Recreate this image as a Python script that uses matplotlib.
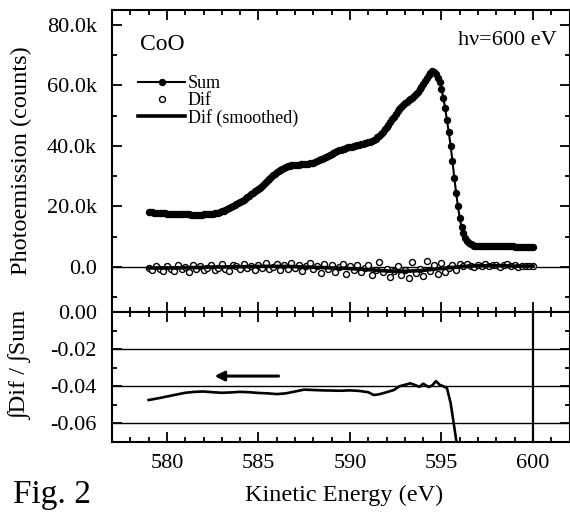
import numpy as np
import matplotlib
matplotlib.use('Agg')
import matplotlib.pyplot as plt
from matplotlib.ticker import MultipleLocator, FuncFormatter, FixedLocator

plt.rcParams['font.family'] = ['Liberation Serif', 'DejaVu Serif']
plt.rcParams['axes.unicode_minus'] = False

# ---------------- data ----------------
sum_energy = np.round(np.arange(579.0, 600.05, 0.1), 1)
sum_counts_k = [
    18.1, 18.0, 18.0, 17.9, 17.9, 17.8, 17.8, 17.8, 17.7, 17.7,
    17.6, 17.6, 17.6, 17.5, 17.5, 17.5, 17.4, 17.4, 17.4, 17.3,
    17.3, 17.3, 17.3, 17.2, 17.2, 17.2, 17.2, 17.2, 17.2, 17.2,
    17.3, 17.3, 17.4, 17.4, 17.5, 17.6, 17.7, 17.8, 17.9, 18.1,
    18.3, 18.5, 18.8, 19.1, 19.4, 19.7, 20.0, 20.4, 20.8, 21.1,
    21.4, 21.8, 22.2, 22.6, 23.0, 23.5, 24.0, 24.5, 25.0, 25.3,
    25.7, 26.2, 26.8, 27.4, 28.0, 28.6, 29.2, 29.8, 30.3, 30.8,
    31.2, 31.7, 32.1, 32.5, 32.8, 33.1, 33.3, 33.5, 33.6, 33.7,
    33.8, 33.8, 33.8, 33.9, 33.9, 34.0, 34.0, 34.1, 34.2, 34.3,
    34.5, 34.7, 34.9, 35.2, 35.5, 35.8, 36.1, 36.4, 36.7, 37.0,
    37.3, 37.6, 37.9, 38.2, 38.5, 38.7, 38.9, 39.1, 39.3, 39.5,
    39.6, 39.8, 39.9, 40.1, 40.2, 40.4, 40.5, 40.7, 40.9, 41.0,
    41.2, 41.4, 41.6, 41.9, 42.3, 42.8, 43.4, 44.0, 44.7, 45.5,
    46.2, 47.0, 47.9, 48.8, 49.7, 50.6, 51.5, 52.3, 53.0, 53.6,
    54.1, 54.6, 55.1, 55.5, 56.0, 56.6, 57.3, 58.0, 58.8, 59.6,
    60.4, 61.4, 62.5, 63.4, 64.2, 64.8, 64.6, 63.8, 62.5, 61.0,
    59.0, 56.0, 52.5, 48.5, 44.5, 40.0, 35.0, 29.5, 24.5, 20.0,
    16.0, 13.0, 11.0, 9.6, 8.6, 7.9, 7.5, 7.2, 7.0, 6.9,
    6.8, 6.8, 6.8, 6.7, 6.7, 6.7, 6.7, 6.7, 6.7, 6.7,
    6.7, 6.7, 6.7, 6.7, 6.7, 6.7, 6.7, 6.7, 6.7, 6.7,
    6.6, 6.6, 6.6, 6.6, 6.6, 6.6, 6.6, 6.6, 6.6, 6.6,
    6.6,
]

dif_energy = np.round(np.arange(579.0, 600.05, 0.2), 1)
dif_counts_k = [
    -0.5, -1.2, 0.3, -0.8, -1.5, 0.2, -0.6, -1.3, 0.4, -0.9,
    -0.2, -1.6, 0.5, -0.7, 0.1, -1.1, -0.3, 0.6, -1.0, -0.4,
    0.8, -0.6, -1.4, 0.7, 0.2, -0.9, 1.0, -0.5, 0.3, -1.2,
    0.5, -0.3, 1.2, -0.8, 0.0, 0.9, -1.0, 0.4, -0.6, 1.1,
    -0.4, 0.6, -1.3, 0.2, 1.3, -0.7, 0.3, -2.2, 0.8, -0.9,
    0.5, -1.6, -0.2, 0.9, -2.3, 0.1, -1.0, 0.6, -1.8, -0.3,
    0.4, -2.6, -1.0, 1.7, -1.9, -0.6, -3.3, -1.4, 0.3, -2.8,
    -1.2, -3.6, 1.5, -2.1, -0.7, -3.0, 1.8, -1.5, 0.5, -2.4,
    1.2, -1.8, -0.4, 0.6, -1.0, 0.9, 0.2, 1.0, 0.3, -0.2,
    0.6, 0.2, 0.8, 0.1, 0.4, 0.7, 0.0, 0.5, 0.9, 0.2,
    0.4, 0.0, 0.3, 0.2, 0.1, 0.2,
]

smooth_energy = np.arange(579.0, 600.01, 0.5)
smooth_counts_k = [
    -0.4, -0.4, -0.4, -0.4, -0.3, -0.3, -0.2, -0.1, -0.1, 0.0,
    0.0, 0.0, 0.1, 0.1, 0.1, 0.1, 0.0, -0.1, -0.2, -0.3,
    -0.4, -0.5, -0.6, -0.8, -1.0, -1.2, -1.4, -1.5, -1.5, -1.4,
    -1.2, -0.9, -0.6, -0.3, 0.0, 0.2, 0.3, 0.3, 0.3, 0.3,
    0.2, 0.2, 0.2,
]

ratio_energy = [
    579.0, 579.5, 580.0, 580.5, 581.0, 581.5, 582.0, 582.5, 583.0, 583.5,
    584.0, 584.5, 585.0, 585.5, 586.0, 586.5, 587.0, 587.5, 588.0, 588.5,
    589.0, 589.5, 590.0, 590.5, 591.0, 591.3, 591.6, 592.0, 592.4, 592.7,
    593.0, 593.3, 593.6, 593.8, 594.0, 594.3, 594.5, 594.7, 594.9, 595.1,
    595.3, 595.5, 595.7, 595.85,
]
ratio_values = [
    -0.0474, -0.0465, -0.0455, -0.0445, -0.0435, -0.0430, -0.0428, -0.0432, -0.0435, -0.0433,
    -0.0430, -0.0432, -0.0436, -0.0438, -0.0442, -0.0438, -0.0428, -0.0418, -0.0420, -0.0422,
    -0.0423, -0.0424, -0.0422, -0.0425, -0.0432, -0.0447, -0.0443, -0.0432, -0.0420, -0.0400,
    -0.0392, -0.0384, -0.0395, -0.0403, -0.0386, -0.0404, -0.0395, -0.0372, -0.0392, -0.0400,
    -0.0410, -0.0490, -0.0620, -0.0720,
]

ratio_gridlines = [-0.02, -0.04, -0.06]
photon_energy_line = 600
arrow_start = (586.1, -0.0345)
arrow_end = (582.6, -0.0345)

upper_major_ticks = [0, 20, 40, 60, 80]
lower_major_ticks = [0.00, -0.02, -0.04, -0.06]
x_major_ticks = [580, 585, 590, 595, 600]

# ---------------- figure ----------------
W, H = 570, 514
fig = plt.figure(figsize=(W / 100, H / 100), dpi=100)
left = 112 / W
width = 457.6 / W
ax1 = fig.add_axes([left, 202 / H, width, 302 / H])
ax2 = fig.add_axes([left, 72 / H, width, 130 / H])

TICKFS = 16
LABFS = 17.5

# upper panel
ax1.axhline(0, color='black', lw=1.0, zorder=1)
l_sum, = ax1.plot(sum_energy, sum_counts_k, '-o', color='black', lw=1.5,
                  ms=4.3, mfc='black', mec='black', zorder=3, label='Sum')
l_dif, = ax1.plot(dif_energy, dif_counts_k, 'o', ms=4.3, mfc='white',
                  mec='black', mew=1.0, zorder=2, label='Dif')
l_smo, = ax1.plot(smooth_energy, smooth_counts_k, '-', color='black', lw=2.6,
                  zorder=4, label='Dif (smoothed)')

ax1.set_xlim(577, 602)
ax1.set_ylim(-15, 85)
ax1.yaxis.set_major_locator(FixedLocator(upper_major_ticks))
ax1.yaxis.set_minor_locator(MultipleLocator(10))
ax1.yaxis.set_major_formatter(FuncFormatter(lambda v, p: '0.0' if abs(v) < 1e-9 else f'{v:.1f}k'))
ax1.set_ylabel('Photoemission (counts)', fontsize=LABFS)
ax1.yaxis.set_label_coords(-0.175, 0.5)

leg = ax1.legend(handles=[l_sum, l_dif, l_smo], loc='upper left',
                 bbox_to_anchor=(0.057, 0.785), frameon=False, fontsize=13,
                 numpoints=1, handlelength=2.6, handletextpad=0.15,
                 labelspacing=0.0, borderpad=0, borderaxespad=0)

ax1.text(0.061, 0.868, 'CoO', transform=ax1.transAxes, fontsize=17,
         ha='left', va='baseline')
ax1.text(0.972, 0.884, 'h\u03bd=600 eV', transform=ax1.transAxes, fontsize=16,
         ha='right', va='baseline')

# lower panel
for g in ratio_gridlines:
    ax2.axhline(g, color='black', lw=1.0, zorder=1)
ax2.axvline(photon_energy_line, color='black', lw=1.6, zorder=1)
ax2.plot(ratio_energy, ratio_values, '-', color='black', lw=1.9, zorder=3)
ax2.annotate('', xy=arrow_end, xytext=arrow_start,
             arrowprops=dict(arrowstyle='-|>', color='black', lw=2.2,
                             mutation_scale=14, shrinkA=0, shrinkB=0))
ax2.set_xlim(577, 602)
ax2.set_ylim(-0.07, 0.0)
ax2.yaxis.set_major_locator(FixedLocator(lower_major_ticks))
ax2.yaxis.set_minor_locator(MultipleLocator(0.01))
ax2.yaxis.set_major_formatter(FuncFormatter(lambda v, p: f'{v:.2f}' if abs(v) > 1e-9 else '0.00'))
ax2.set_ylabel('\u222bDif / \u222bSum', fontsize=LABFS)
ax2.yaxis.set_label_coords(-0.175, 0.59)
ax2.set_xlabel('Kinetic Energy (eV)', fontsize=LABFS)
ax2.xaxis.set_label_coords(0.507, -0.33)

for ax in (ax1, ax2):
    ax.xaxis.set_major_locator(FixedLocator(x_major_ticks))
    ax.xaxis.set_minor_locator(MultipleLocator(1))
    ax.tick_params(which='both', direction='in', top=True, right=True,
                   width=1.3, labelsize=TICKFS, pad=11)
    ax.tick_params(which='major', length=7)
    ax.tick_params(which='minor', length=3.5)
    ax.tick_params(axis='x', pad=9)
    for s in ax.spines.values():
        s.set_linewidth(1.5)
ax1.tick_params(axis='x', labelbottom=False)

fig.text(13 / W, 1 - 503 / H, 'Fig. 2', fontsize=24, ha='left', va='baseline')

fig.savefig('out.png', dpi=100)
